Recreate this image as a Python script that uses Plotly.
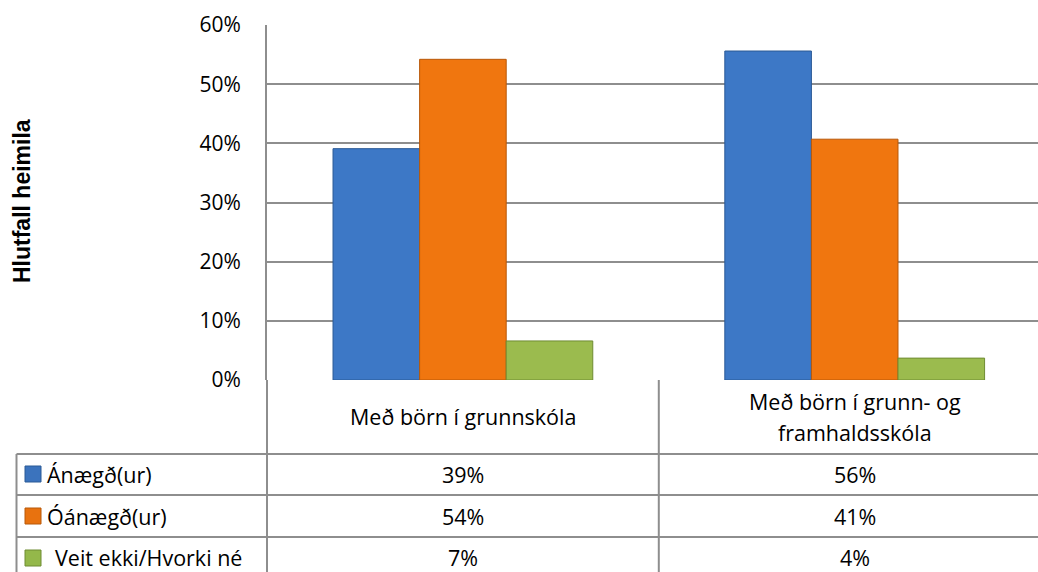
import plotly.graph_objects as go

# ---- data ----
categories = ["Með börn í grunnskóla", "Með börn í grunn- og<br>framhaldsskóla"]
series_names = ["Ánægð(ur)", "Óánægð(ur)", "Veit ekki/Hvorki né"]
anaegd = [39.1, 55.6]
oanaegd = [54.2, 40.7]
veit_ekki = [6.6, 3.7]
y_ticks = [0, 10, 20, 30, 40, 50, 60]
y_tick_labels = ["0%", "10%", "20%", "30%", "40%", "50%", "60%"]
y_title = "Hlutfall heimila"

series_values = [anaegd, oanaegd, veit_ekki]
colors = ["#3d78c6", "#f0760f", "#9bbb4e"]
line_colors = ["#2b5a96", "#b85808", "#6f8c32"]
key_colors = ["#3b73bd", "#e8720f", "#94b84a"]

W, H = 1038, 572
ML, MR, MT, MB = 267, 0, 25, 192
PW = W - ML - MR
PH = H - MT - MB


def px_x(px):
    return (px - ML) / PW


def px_y(py):
    return (H - MB - py) / PH


FONT = "Open Sans"
FS = 21
FS_T = 21.5
GRID = "#8e8e8e"

fig = go.Figure()
xs = list(range(len(categories)))
for name, vals, c, lc in zip(series_names, series_values, colors, line_colors):
    fig.add_trace(go.Bar(
        x=xs, y=vals, name=name,
        marker=dict(color=c, line=dict(color=lc, width=1)),
        hoverinfo="skip",
    ))

shapes = []
annotations = []


def hline(py, x0, x1):
    shapes.append(dict(type="line", xref="paper", yref="paper",
                       x0=px_x(x0), x1=px_x(x1), y0=px_y(py), y1=px_y(py),
                       line=dict(color=GRID, width=2)))


def vline(px, y0, y1):
    shapes.append(dict(type="line", xref="paper", yref="paper",
                       x0=px_x(px), x1=px_x(px), y0=px_y(y0), y1=px_y(y1),
                       line=dict(color=GRID, width=2)))


# table grid
row_lines = [454, 495, 537, 579]
for r in row_lines:
    hline(r, 16.5, W + 5)
vline(ML, H - MB, H + 10)        # continuation of y-axis line
vline(16.5, 454, H + 10)         # table left border
# divider between categories (data x = 0.5)
shapes.append(dict(type="line", xref="x", yref="paper", x0=0.5, x1=0.5,
                   y0=px_y(H - MB), y1=px_y(H + 10),
                   line=dict(color=GRID, width=2)))

# category labels
cat_center_y = 416.5
line_gap = 31
for i, cat in enumerate(categories):
    lines = cat.split("<br>")
    n = len(lines)
    for j, ln in enumerate(lines):
        py = cat_center_y + (j - (n - 1) / 2) * line_gap
        annotations.append(dict(x=i, y=px_y(py), xref="x", yref="paper",
                                text=ln, showarrow=False, xanchor="center", yanchor="middle",
                                font=dict(family=FONT, size=FS_T, color="#000")))

# table rows
row_centers = [474.5, 516, 557]
key_tops = [466, 508, 550]
label_x = [46, 46, 54]
for k, (name, vals) in enumerate(zip(series_names, series_values)):
    cy = row_centers[k]
    shapes.append(dict(type="rect", xref="paper", yref="paper",
                       x0=px_x(25), x1=px_x(41), y0=px_y(key_tops[k]), y1=px_y(key_tops[k] + 16),
                       fillcolor=key_colors[k], line=dict(color=line_colors[k], width=1)))
    annotations.append(dict(x=px_x(label_x[k]), y=px_y(cy), xref="paper", yref="paper",
                            text=name, showarrow=False, xanchor="left", yanchor="middle",
                            borderpad=0,
                            font=dict(family=FONT, size=FS_T, color="#000")))
    for i, v in enumerate(vals):
        annotations.append(dict(x=i, y=px_y(cy), xref="x", yref="paper",
                                text=f"{int(v + 0.5)}%", showarrow=False,
                                xanchor="center", yanchor="middle", borderpad=0,
                                font=dict(family=FONT, size=FS_T, color="#000")))

# y-axis title
annotations.append(dict(x=px_x(22), y=px_y(201), xref="paper", yref="paper",
                        text=f"<b>{y_title}</b>", textangle=-90, showarrow=False,
                        xanchor="center", yanchor="middle",
                        font=dict(family="Liberation Sans", size=23, color="#000")))

cat_px = 391.8
fig.update_layout(
    width=W, height=H,
    margin=dict(l=ML, r=MR, t=MT, b=MB, pad=0),
    paper_bgcolor="white", plot_bgcolor="white",
    barmode="group", bargap=0.337, bargroupgap=0,
    showlegend=False,
    shapes=shapes, annotations=annotations,
    xaxis=dict(range=[-0.5, -0.5 + PW / cat_px], showticklabels=False, showgrid=False,
               zeroline=False, showline=False, ticks="", fixedrange=True),
    yaxis=dict(range=[0, 60], tickvals=y_ticks, ticktext=y_tick_labels,
               showgrid=True, gridcolor=GRID, gridwidth=2,
               zeroline=False, showline=True, linecolor=GRID, linewidth=2,
               ticks="", ticklabelstandoff=20,
               tickfont=dict(family=FONT, size=FS, color="#000"), fixedrange=True),
)

fig.write_html("out.html", config={"displayModeBar": False},
               post_script="document.body.style.margin='0';document.body.style.overflow='hidden';")
